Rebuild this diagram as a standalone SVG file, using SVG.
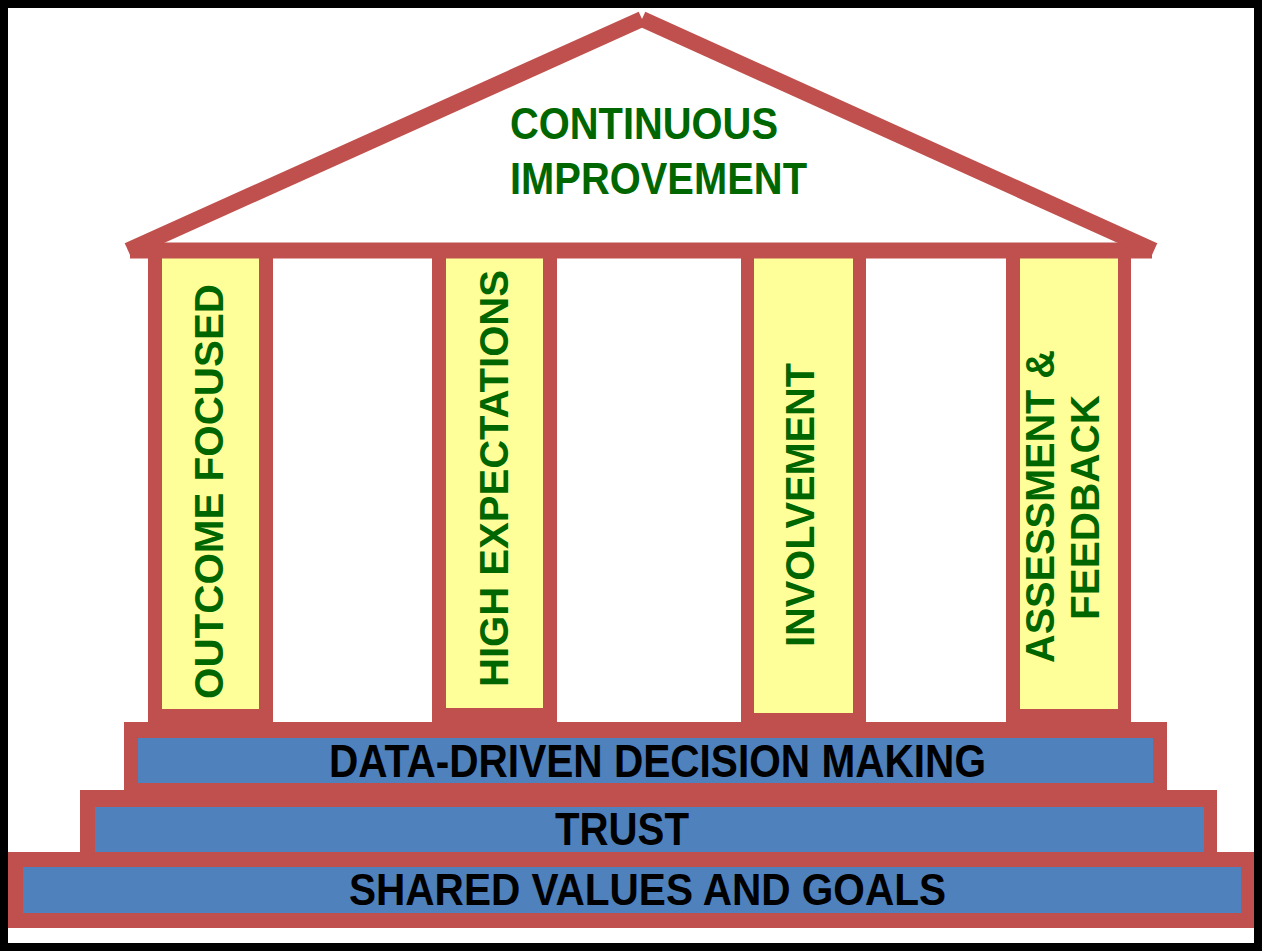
<svg xmlns="http://www.w3.org/2000/svg" width="1262" height="951" viewBox="0 0 1262 951">
<style>
.red{fill:#C0504D}
.yel{fill:#FFFF99}
.blue{fill:#4F81BD}
.gt{font-family:"Liberation Sans",Arial,sans-serif;font-weight:bold;fill:#006600}
.bt{font-family:"Liberation Sans",Arial,sans-serif;font-weight:bold;fill:#000000}
.roof{stroke:#C0504D;stroke-width:16;fill:none;stroke-linecap:butt}
</style>
<rect x="0" y="0" width="1262" height="951" fill="#ffffff"/>
<g id="pillar1">
<rect class="red" x="148" y="250" width="125" height="473"/>
<rect class="yel" x="162" y="258" width="97" height="451"/>
<text class="gt" font-size="41" text-anchor="middle" transform="translate(222.5,491.5) rotate(-90)" textLength="415" lengthAdjust="spacingAndGlyphs">OUTCOME FOCUSED</text>
</g>
<g id="pillar2">
<rect class="red" x="432" y="250" width="125" height="473"/>
<rect class="yel" x="446" y="258" width="97" height="450"/>
<text class="gt" font-size="41" text-anchor="middle" transform="translate(507.5,478.5) rotate(-90)" textLength="417" lengthAdjust="spacingAndGlyphs">HIGH EXPECTATIONS</text>
</g>
<g id="pillar3">
<rect class="red" x="741" y="250" width="125" height="473"/>
<rect class="yel" x="754" y="258" width="99" height="455"/>
<text class="gt" font-size="41" text-anchor="middle" transform="translate(813.5,505) rotate(-90)" textLength="284" lengthAdjust="spacingAndGlyphs">INVOLVEMENT</text>
</g>
<g id="pillar4">
<rect class="red" x="1006" y="250" width="125" height="473"/>
<rect class="yel" x="1020" y="258" width="98" height="451"/>
<text class="gt" font-size="41" text-anchor="middle" transform="translate(1053.5,506.5) rotate(-90)" textLength="313" lengthAdjust="spacingAndGlyphs">ASSESSMENT &amp;</text>
<text class="gt" font-size="41" text-anchor="middle" transform="translate(1098.5,507.5) rotate(-90)" textLength="225" lengthAdjust="spacingAndGlyphs">FEEDBACK</text>
</g>
<g id="step1">
<rect class="red" x="124" y="722" width="1043" height="70"/>
<rect class="blue" x="138" y="738" width="1015" height="45"/>
<text class="bt" x="329" y="777" font-size="47" textLength="657" lengthAdjust="spacingAndGlyphs">DATA-DRIVEN DECISION MAKING</text>
</g>
<g id="step2">
<rect class="red" x="80" y="790" width="1137" height="70"/>
<rect class="blue" x="95" y="807" width="1109" height="45"/>
<text class="bt" x="555" y="845" font-size="46" textLength="134" lengthAdjust="spacingAndGlyphs">TRUST</text>
</g>
<g id="step3">
<rect class="red" x="8" y="852" width="1247" height="76"/>
<rect class="blue" x="23" y="867" width="1218" height="46"/>
<text class="bt" x="349" y="905" font-size="45" textLength="597" lengthAdjust="spacingAndGlyphs">SHARED VALUES AND GOALS</text>
</g>
<g id="roof">
<line class="roof" x1="130" y1="250.5" x2="1152" y2="250.5"/>
<line class="roof" x1="128" y1="250.5" x2="642" y2="19"/>
<line class="roof" x1="642" y1="19" x2="1154" y2="250.5"/>
<text class="gt" x="510" y="139" font-size="44" textLength="268" lengthAdjust="spacingAndGlyphs">CONTINUOUS</text>
<text class="gt" x="510" y="194" font-size="44" textLength="297" lengthAdjust="spacingAndGlyphs">IMPROVEMENT</text>
</g>
<g id="connectors"></g>
<rect x="4" y="4" width="1254" height="943" fill="none" stroke="#000000" stroke-width="8"/>
</svg>
